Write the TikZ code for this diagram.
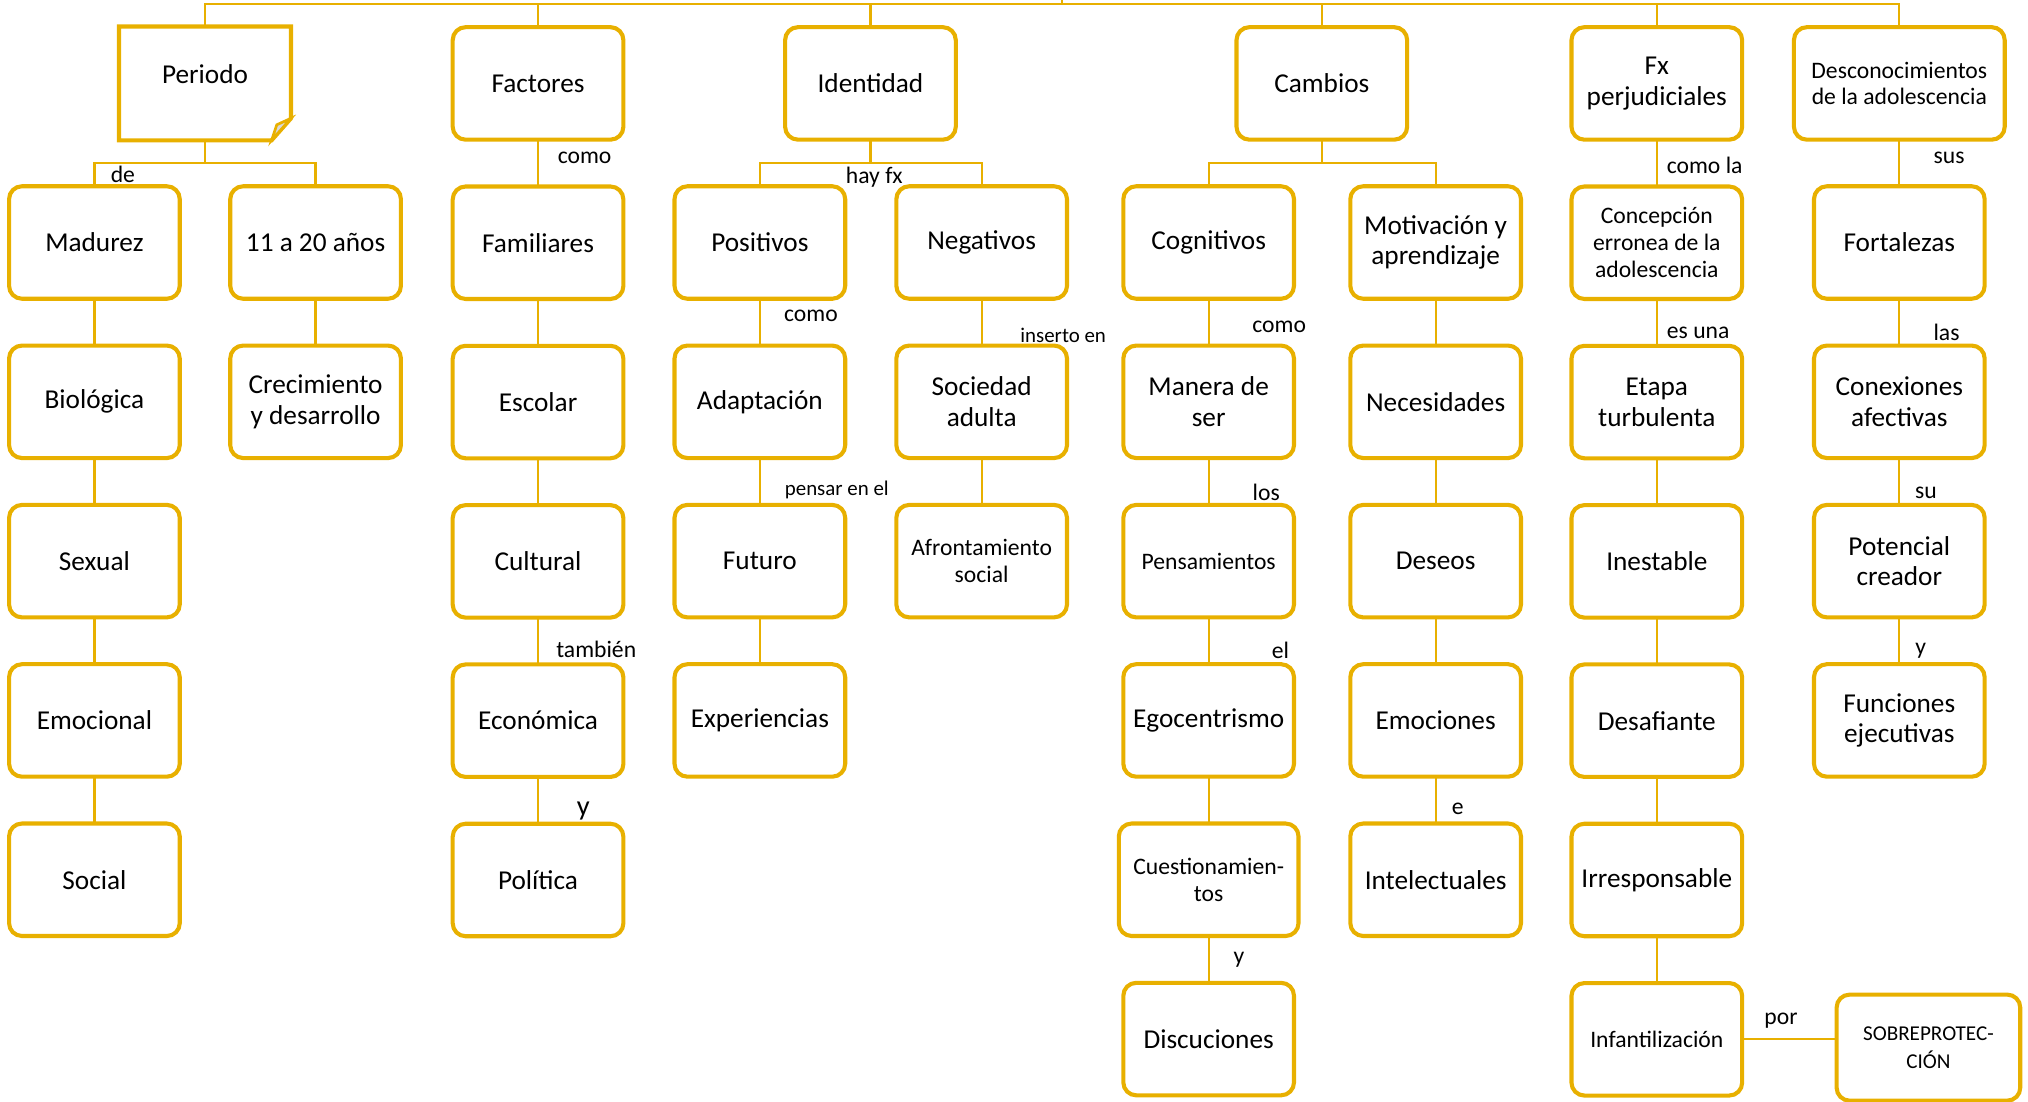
\documentclass[tikz,border=0pt]{standalone}
\usepackage{fontspec}
\setmainfont{Carlito}
\usepackage{xcolor}
\usetikzlibrary{positioning}
\definecolor{oro}{RGB}{232,176,0}

\begin{document}
\begin{tikzpicture}
[x=0.02cm, y=-0.02cm,
cell-a/.style={rectangle, draw=oro, line width=1.8pt, rounded corners=0.2cm, outer sep=0pt, inner sep=1pt, minimum width=2.64cm, minimum height=1.74cm, align=center, font=\fontsize{12}{13.5}\selectfont},
cell-b/.style={cell-a, font=\fontsize{10.4}{11.8}\selectfont},
cell-c/.style={cell-a, font=\fontsize{9.3}{12}\selectfont},
cell-note/.style={rectangle, outer sep=0pt, minimum width=2.66cm, minimum height=1.76cm},
text-a/.style={inner sep=0pt, font=\fontsize{10.4}{12}\selectfont},
text-b/.style={inner sep=0pt, font=\fontsize{9.2}{11}\selectfont},
text-c/.style={inner sep=0pt, font=\fontsize{12.5}{14}\selectfont},
line-a/.style={draw=oro, line width=1pt},]
\useasboundingbox (0,0) rectangle (1568,852);
% first row
\node (cell-periodo)   [cell-note] at (158.5,64.5) {};
\node (cell-factores)  [cell-a] at (416,64.5)  {Factores};
\node (cell-identidad) [cell-a] at (673,64.5)  {Identidad};
\node (cell-cambios)   [cell-a] at (1022,64.5) {Cambios};
\node (cell-fx)        [cell-a] at (1281,64.5) {Fx\\perjudiciales};
\node (cell-desc)      [cell-b, minimum width=3.26cm] at (1468.5,64.5) {Desconocimientos\\de la adolescencia};
\draw [draw=oro, line width=1.8pt] (cell-periodo.north west) -- (cell-periodo.north east) -- ([yshift=0.34cm]cell-periodo.south east) -- ([xshift=-0.3cm]cell-periodo.south east) -- (cell-periodo.south west) -- cycle;
\draw [draw=oro, fill=black!15, line width=1.2pt] ([xshift=-0.3cm]cell-periodo.south east) -- ([xshift=-0.22cm, yshift=0.24cm]cell-periodo.south east) -- ([yshift=0.34cm]cell-periodo.south east) -- cycle;
\node (title-periodo) [font=\fontsize{12}{13.5}\selectfont] at ([yshift=0.15cm]cell-periodo.center) {Periodo};
% second row
\node (cell-madurez)    [cell-a] at (73,187.5)    {Madurez};
\node (cell-anos)       [cell-a] at (244,187.5)   {11 a 20 años};
\node (cell-familiares) [cell-a, below = 0.724cm of cell-factores] {Familiares};
\node (cell-positivos)  [cell-a] at (587.5,187.5) {Positivos};
\node (cell-negativos)  [cell-a] at (759,187.5)   {Negativos};
\node (cell-cognitivos) [cell-a] at (934.5,187.5) {Cognitivos};
\node (cell-motivacion) [cell-a] at (1110,187.5)  {Motivación y\\aprendizaje};
\node (cell-concepcion) [cell-b, below = 0.724cm of cell-fx] {Concepción\\erronea de la\\adolescencia};
\node (cell-fortalezas) [cell-a] at (1468.5,187.5) {Fortalezas};
% third row
\node (cell-biologica)   [cell-a, below = 0.724cm of cell-madurez]    {Biológica};
\node (cell-crecimiento) [cell-a, below = 0.724cm of cell-anos]       {Crecimiento\\y desarrollo};
\node (cell-escolar)     [cell-a, below = 0.724cm of cell-familiares] {Escolar};
\node (cell-adaptacion)  [cell-a, below = 0.724cm of cell-positivos]  {Adaptación};
\node (cell-sociedad)    [cell-a, below = 0.724cm of cell-negativos]  {Sociedad\\adulta};
\node (cell-manera)      [cell-a, below = 0.724cm of cell-cognitivos] {Manera de\\ser};
\node (cell-necesidades) [cell-a, below = 0.724cm of cell-motivacion] {Necesidades};
\node (cell-etapa)       [cell-a, below = 0.724cm of cell-concepcion] {Etapa\\turbulenta};
\node (cell-conexiones)  [cell-a, below = 0.724cm of cell-fortalezas] {Conexiones\\afectivas};
% fourth row
\node (cell-sexual)       [cell-a, below = 0.724cm of cell-biologica]   {Sexual};
\node (cell-cultural)     [cell-a, below = 0.724cm of cell-escolar]     {Cultural};
\node (cell-futuro)       [cell-a, below = 0.724cm of cell-adaptacion]  {Futuro};
\node (cell-afrontamiento)[cell-b, below = 0.724cm of cell-sociedad]    {Afrontamiento\\social};
\node (cell-pensamientos) [cell-b, below = 0.724cm of cell-manera]      {Pensamientos};
\node (cell-deseos)       [cell-a, below = 0.724cm of cell-necesidades] {Deseos};
\node (cell-inestable)    [cell-a, below = 0.724cm of cell-etapa]       {Inestable};
\node (cell-potencial)    [cell-a, below = 0.724cm of cell-conexiones]  {Potencial\\creador};
% fifth row
\node (cell-emocional)    [cell-a, below = 0.724cm of cell-sexual]       {Emocional};
\node (cell-economica)    [cell-a, below = 0.724cm of cell-cultural]     {Económica};
\node (cell-experiencias) [cell-a, below = 0.724cm of cell-futuro]       {Experiencias};
\node (cell-egocentrismo) [cell-a, below = 0.724cm of cell-pensamientos] {Egocentrismo};
\node (cell-emociones)    [cell-a, below = 0.724cm of cell-deseos]       {Emociones};
\node (cell-desafiante)   [cell-a, below = 0.724cm of cell-inestable]    {Desafiante};
\node (cell-funciones)    [cell-a, below = 0.724cm of cell-potencial]    {Funciones\\ejecutivas};
% sixth and seventh rows
\node (cell-social)          [cell-a, below = 0.724cm of cell-emocional]    {Social};
\node (cell-politica)        [cell-a, below = 0.724cm of cell-economica]    {Política};
\node (cell-cuestion)        [cell-b, minimum width=2.78cm, below = 0.724cm of cell-egocentrismo] {Cuestionamien-\\tos};
\node (cell-intelectuales)   [cell-a, below = 0.724cm of cell-emociones]    {Intelectuales};
\node (cell-irresponsable)   [cell-a, below = 0.724cm of cell-desafiante]   {Irresponsable};
\node (cell-discuciones)     [cell-a, below = 0.724cm of cell-cuestion]     {Discuciones};
\node (cell-infant)          [cell-b, below = 0.724cm of cell-irresponsable] {Infantilización};
\node (cell-sobre)           [cell-c, minimum width=2.84cm, minimum height=1.64cm] at (1491,810) {SOBREPROTEC-\\CIÓN};
% top bar and forks
\coordinate (top-bar) at (821,3);
\coordinate (root) at (821,0);
\draw [line-a] (cell-periodo.north) |- (top-bar) -| (cell-desc.north);
\draw [line-a] (top-bar) -- (root);
\foreach \n in {factores, identidad, cambios, fx}
  \draw [line-a] (cell-\n.north) -- (cell-\n.north |- top-bar);
\coordinate (fork-periodo) at (158.5,126);
\coordinate (fork-identidad) at (673,126);
\coordinate (fork-cambios) at (1022,126);
\draw [line-a] (cell-periodo.south) -- (fork-periodo);
\draw [line-a] (cell-madurez.north) |- (fork-periodo) -| (cell-anos.north);
\draw [line-a] (cell-identidad.south) -- (fork-identidad);
\draw [line-a] (cell-positivos.north) |- (fork-identidad) -| (cell-negativos.north);
\draw [line-a] (cell-cambios.south) -- (fork-cambios);
\draw [line-a] (cell-cognitivos.north) |- (fork-cambios) -| (cell-motivacion.north);
% columns
\foreach \a/\b in {madurez/biologica, biologica/sexual, sexual/emocional, emocional/social,
  anos/crecimiento, factores/familiares, familiares/escolar, escolar/cultural, cultural/economica, economica/politica,
  positivos/adaptacion, adaptacion/futuro, futuro/experiencias, negativos/sociedad, sociedad/afrontamiento,
  cognitivos/manera, manera/pensamientos, pensamientos/egocentrismo, egocentrismo/cuestion, cuestion/discuciones,
  motivacion/necesidades, necesidades/deseos, deseos/emociones, emociones/intelectuales,
  fx/concepcion, concepcion/etapa, etapa/inestable, inestable/desafiante, desafiante/irresponsable, irresponsable/infant,
  desc/fortalezas, fortalezas/conexiones, conexiones/potencial, potencial/funciones}
  \draw [line-a] (cell-\a) -- (cell-\b);
\draw [line-a] (cell-infant.east) -- (cell-infant.east -| cell-sobre.west);
% link words
\node (text-de)       [text-a] at (95,135)    {de};
\node (text-como1)    [text-a] at (452,122)   {como};
\node (text-hayfx)    [text-a] at (676,137)   {hay fx};
\node (text-como2)    [text-a] at (627,244)   {como};
\node (text-inserto)  [text-b] at (822,259)   {inserto en};
\node (text-pensar)   [text-b] at (647,379)   {pensar en el};
\node (text-tambien)  [text-a] at (461,502)   {también};
\node (text-y1)       [text-c] at (451,627)   {y};
\node (text-como3)    [text-a] at (989,253)   {como};
\node (text-los)      [text-a] at (979,381)   {los};
\node (text-el)       [text-a] at (990,503)   {el};
\node (text-y2)       [text-a] at (958,742)   {y};
\node (text-e)        [text-a] at (1127,625)  {e};
\node (text-comola)   [text-a] at (1318,128)  {como la};
\node (text-esuna)    [text-a] at (1313,257)  {es una};
\node (text-por)      [text-a] at (1377,789)  {por};
\node (text-sus)      [text-a] at (1507,122)  {sus};
\node (text-las)      [text-a] at (1505,257)  {las};
\node (text-su)       [text-a] at (1489,381)  {su};
\node (text-y3)       [text-a] at (1485,503)  {y};
\end{tikzpicture}
\end{document}
